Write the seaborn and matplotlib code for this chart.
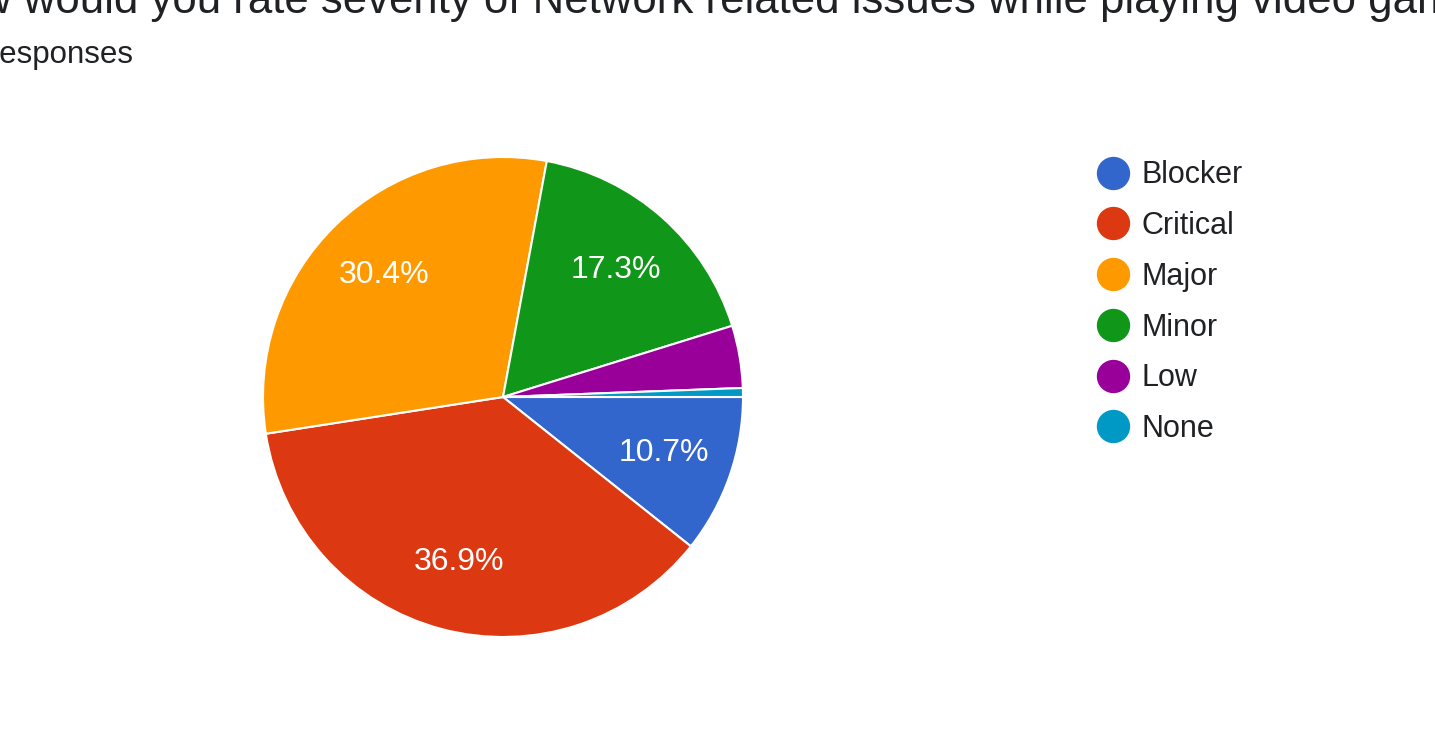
import matplotlib
matplotlib.use("Agg")
import matplotlib.pyplot as plt
import seaborn as sns
from matplotlib.lines import Line2D

# dados
categorias = ["Blocker", "Critical", "Major", "Minor", "Low", "None"]
percentuais = [10.7, 36.9, 30.4, 17.3, 4.2, 0.6]
cores = ["#3366cc", "#dc3912", "#ff9900", "#109618", "#990099", "#0099c6"]
titulo = "How would you rate severity of Network related issues while playing video games?"
subtitulo = "168 responses"

sns.set_theme(style="white")
plt.rcParams["font.family"] = ["Liberation Sans", "DejaVu Sans"]

W, H = 1435, 729
fig = plt.figure(figsize=(W / 100, H / 100), dpi=100)
fig.patch.set_facecolor("white")

# eixo da pizza: centro (503, 397) px, raio 240 px
cx, cy, r = 503, 397, 240
ax = fig.add_axes([(cx - r) / W, (H - cy - r) / H, 2 * r / W, 2 * r / H])

def rotulo(p):
    return f"{p:.1f}%" if p > 8 else ""

wedges, _, autotexts = ax.pie(
    percentuais, colors=cores, startangle=0, counterclock=False,
    autopct=rotulo, pctdistance=0.71,
    wedgeprops=dict(edgecolor="white", linewidth=1.5),
    textprops=dict(color="white", fontsize=23),
)
ax.set_xlim(-1, 1)
ax.set_ylim(-1, 1)
ax.set_aspect("equal")
ax.axis("off")

# título cortado no topo, como na captura
fig.text(-76 / W, 1 - 13 / H, titulo, ha="left", va="baseline",
         fontsize=31.5, color="#202124")
fig.text(133 / W, 1 - 63 / H, subtitulo, ha="right", va="baseline",
         fontsize=22.5, color="#202124")

handles = [Line2D([], [], marker="o", linestyle="", markersize=23,
                  markerfacecolor=c, markeredgecolor=c) for c in cores]
fig.legend(handles, categorias, loc="upper left",
           bbox_to_anchor=(1085 / W, 1 - 148 / H), frameon=False,
           fontsize=22, labelspacing=0.68, handlelength=1.0,
           handletextpad=0.45, borderaxespad=0, labelcolor="#202124")

fig.savefig("out.png", dpi=100, facecolor="white")
